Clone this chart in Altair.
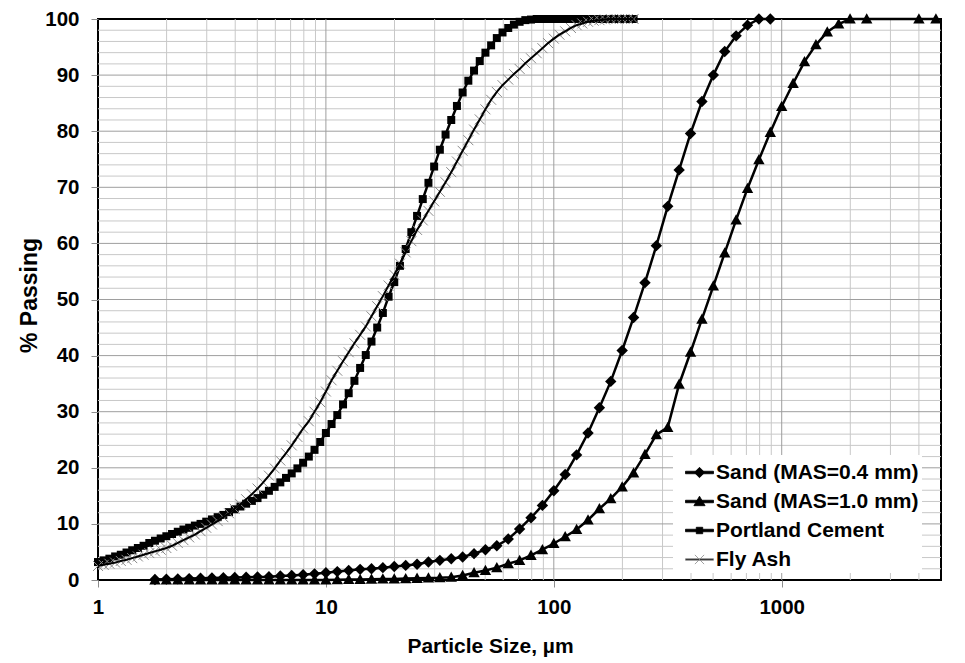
import altair as alt
import pandas as pd

names = ["Sand (MAS=0.4 mm)", "Sand (MAS=1.0 mm)", "Portland Cement", "Fly Ash"]

# particle sizes (um) of the laser-diffraction bins used for cement / fly ash
fine_sizes = [
    1.000, 1.059, 1.122, 1.189, 1.259, 1.334, 1.413, 1.496, 1.585, 1.679,
    1.778, 1.884, 1.995, 2.113, 2.239, 2.371, 2.512, 2.661, 2.818, 2.985,
    3.162, 3.350, 3.548, 3.758, 3.981, 4.217, 4.467, 4.732, 5.012, 5.309,
    5.623, 5.957, 6.310, 6.683, 7.079, 7.499, 7.943, 8.414, 8.913, 9.441,
    10.00, 10.59, 11.22, 11.89, 12.59, 13.34, 14.13, 14.96, 15.85, 16.79,
    17.78, 18.84, 19.95, 21.13, 22.39, 23.71, 25.12, 26.61, 28.18, 29.85,
    31.62, 33.50, 35.48, 37.58, 39.81, 42.17, 44.67, 47.32, 50.12, 53.09,
    56.23, 59.57, 63.10, 66.83, 70.79, 74.99, 79.43, 84.14, 89.13, 94.41,
    100.0, 105.9, 112.2, 118.9, 125.9, 133.4, 141.3, 149.6, 158.5, 167.9,
    177.8, 188.4, 199.5, 211.3, 223.9,
]
cement_pass = [
    3.2, 3.5, 3.8, 4.2, 4.5, 4.9, 5.3, 5.7, 6.1, 6.6,
    7.0, 7.4, 7.8, 8.2, 8.6, 9.0, 9.3, 9.7, 10.0, 10.4,
    10.8, 11.2, 11.6, 12.1, 12.6, 13.1, 13.6, 14.1, 14.6, 15.2,
    15.9, 16.6, 17.4, 18.2, 19.0, 19.9, 20.9, 22.0, 23.2, 24.6,
    26.2, 27.8, 29.4, 31.3, 33.3, 35.5, 37.8, 40.1, 42.5, 45.0,
    47.6, 50.5, 53.1, 56.0, 59.0, 62.0, 64.9, 67.9, 70.8, 73.7,
    76.7, 79.4, 82.0, 84.5, 86.9, 89.0, 90.8, 92.5, 94.0, 95.3,
    96.6, 97.6, 98.4, 99.0, 99.5, 99.8, 99.9, 100, 100, 100,
    100, 100, 100, 100, 100, 100, 100, 100, 100, 100,
    100, 100, 100, 100, 100,
]
flyash_pass = [
    2.5, 2.7, 2.9, 3.1, 3.4, 3.6, 3.9, 4.2, 4.5, 4.8,
    5.1, 5.4, 5.7, 6.1, 6.6, 7.1, 7.6, 8.1, 8.7, 9.3,
    9.9, 10.5, 11.2, 11.9, 12.7, 13.5, 14.4, 15.3, 16.3, 17.4,
    18.6, 19.9, 21.3, 22.6, 24.0, 25.5, 27.0, 28.3, 30.0, 31.7,
    33.6, 35.6, 37.3, 39.0, 40.6, 42.2, 43.7, 45.2, 47.0, 48.8,
    50.6, 52.5, 54.4, 56.4, 58.4, 60.4, 62.4, 64.1, 65.8, 67.5,
    69.2, 70.9, 72.7, 74.6, 76.5, 78.4, 80.3, 82.1, 83.9, 85.6,
    87.0, 88.2, 89.2, 90.2, 91.1, 92.1, 93.0, 93.9, 94.8, 95.7,
    96.5, 97.2, 97.8, 98.4, 98.9, 99.2, 99.5, 99.7, 99.8, 99.9,
    100, 100, 100, 100, 100,
]

# particle sizes (um) for the sands (laser bins + sieve sizes)
sand_sizes = [
    1.778, 1.995, 2.239, 2.512, 2.818, 3.162, 3.548, 3.981, 4.467, 5.012,
    5.623, 6.310, 7.079, 7.943, 8.913, 10.00, 11.22, 12.59, 14.13, 15.85,
    17.78, 19.95, 22.39, 25.12, 28.18, 31.62, 35.48, 39.81, 44.67, 50.12,
    56.23, 63.10, 70.79, 79.43, 89.13, 100.0, 112.2, 125.9, 141.3, 158.5,
    177.8, 199.5, 223.9, 251.2, 281.8, 316.2, 354.8, 398.1, 446.7, 501.2,
    562.3, 631.0, 707.9, 794.3, 891.3, 1000, 1122, 1259, 1413, 1585,
    1778, 1995, 2360, 4000, 4750,
]
sand04_pass = [
    0.1, 0.15, 0.2, 0.25, 0.3, 0.35, 0.4, 0.45, 0.5, 0.55,
    0.6, 0.7, 0.8, 0.95, 1.1, 1.3, 1.5, 1.7, 1.9, 2.0,
    2.2, 2.4, 2.6, 2.8, 3.2, 3.5, 3.8, 4.1, 4.7, 5.4,
    6.1, 7.3, 9.1, 11.1, 13.3, 15.9, 18.8, 22.3, 26.2, 30.7,
    35.4, 40.9, 46.8, 53.0, 59.6, 66.6, 73.1, 79.6, 85.3, 90.0,
    94.2, 97.0, 98.9, 100, 100,
]
sand10_pass = [
    0, 0, 0, 0, 0, 0, 0, 0, 0, 0,
    0, 0, 0, 0, 0, 0, 0.05, 0.1, 0.1, 0.15,
    0.2, 0.2, 0.25, 0.3, 0.35, 0.4, 0.5, 0.8, 1.3, 1.7,
    2.2, 2.9, 3.5, 4.4, 5.4, 6.5, 7.7, 9.0, 10.7, 12.7,
    14.5, 16.6, 19.1, 22.4, 25.9, 27.2, 34.9, 40.6, 46.5, 52.4,
    58.3, 64.2, 69.8, 74.9, 79.8, 84.4, 88.5, 92.4, 95.4, 97.7,
    99.1, 100, 100, 100, 100,
]

x_ticks = [1, 10, 100, 1000]
x_major_grid = [10, 100, 1000]
x_minor_grid = [2, 3, 4, 5, 6, 7, 8, 9, 20, 30, 40, 50, 60, 70, 80, 90,
                200, 300, 400, 500, 600, 700, 800, 900, 2000, 3000, 4000]
y_ticks = [0, 10, 20, 30, 40, 50, 60, 70, 80, 90, 100]
y_major_grid = [10, 20, 30, 40, 50, 60, 70, 80, 90]
y_minor_grid = [2, 4, 6, 8, 12, 14, 16, 18, 22, 24, 26, 28, 32, 34, 36, 38,
                42, 44, 46, 48, 52, 54, 56, 58, 62, 64, 66, 68, 72, 74, 76, 78,
                82, 84, 86, 88, 92, 94, 96, 98]

series_data = [
    (names[0], sand_sizes[:len(sand04_pass)], sand04_pass),
    (names[1], sand_sizes, sand10_pass),
    (names[2], fine_sizes, cement_pass),
    (names[3], fine_sizes, flyash_pass),
]
rows = []
for name, xs, ys in series_data:
    for xv, yv in zip(xs, ys):
        rows.append({"size": xv, "passing": yv, "series": name})
df = pd.DataFrame(rows)

FONT = "Liberation Sans"
W, H = 843, 561

xscale = alt.Scale(type="log", domain=[1, 5000], nice=False)
yscale = alt.Scale(domain=[0, 100], nice=False)
xaxis = alt.Axis(values=x_ticks, title="Particle Size, µm", grid=False, domain=False,
                 format="d", tickSize=7, tickColor="#8c8c8c", labelPadding=10,
                 titlePadding=18, labelFlush=False, titleX=392, titleFontSize=21)
yaxis = alt.Axis(values=y_ticks, title="% Passing", grid=False, domain=False,
                 tickSize=7, tickColor="#8c8c8c", labelPadding=12, titlePadding=3,
                 titleFontSize=23, titleY=276)

X = lambda f: alt.X(f, type="quantitative", scale=xscale, axis=xaxis)
Y = lambda f: alt.Y(f, type="quantitative", scale=yscale, axis=yaxis)

def vrules(vals, color):
    return alt.Chart(pd.DataFrame({"size": vals})).mark_rule(
        color=color, strokeWidth=1).encode(x=X("size"))

def hrules(vals, color):
    return alt.Chart(pd.DataFrame({"passing": vals})).mark_rule(
        color=color, strokeWidth=1).encode(y=Y("passing"))

MINOR = "#c8c8c8"
MAJOR = "#9e9e9e"
grid = [vrules(x_minor_grid, MINOR), hrules(y_minor_grid, MINOR),
        vrules(x_major_grid, MAJOR), hrules(y_major_grid, MAJOR)]

P_DIAMOND = "M0,-1L1,0L0,1L-1,0Z"
P_TRIANGLE = "M0,-1L1,0.8L-1,0.8Z"
P_SQUARE = "M-1,-1H1V1H-1Z"
P_CROSS = "M-1,-1L1,1M-1,1L1,-1"

base = alt.Chart(df)
layers = list(grid)
for i, name in enumerate(names):
    sub = base.transform_filter(alt.datum.series == name)
    line = sub.mark_line(color="black", strokeWidth=2.5 if i < 3 else 2.0).encode(
        x=X("size"), y=Y("passing"), order="size:Q")
    if i < 3:
        shp = [P_DIAMOND, P_TRIANGLE, P_SQUARE][i]
        sz = [130, 130, 64][i]
        pts = sub.mark_point(shape=shp, size=sz, filled=True, color="black",
                             opacity=1).encode(x=X("size"), y=Y("passing"))
        layers += [line, pts]
    else:
        pts = sub.mark_point(shape=P_CROSS, size=100, filled=False, color="#8a8a8a",
                             strokeWidth=1, opacity=1).encode(x=X("size"), y=Y("passing"))
        layers += [pts, line]

# legend symbols: line segment + marker
L_LINE = "M-1,-0.09H1V0.09H-1Z"
legend_paths = [
    L_LINE + "M0,-0.37L0.37,0L0,0.37L-0.37,0Z",
    L_LINE + "M0,-0.38L0.4,0.3L-0.4,0.3Z",
    L_LINE + "M-0.23,-0.23H0.23V0.23H-0.23Z",
    "M-1,-0.05H1V0.05H-1Z M-0.33,-0.33L0.33,0.33M-0.33,0.33L0.33,-0.33",
]
leg = alt.Legend(title=None, orient="none", legendX=575, legendY=436,
                 symbolSize=784, symbolOpacity=1, symbolStrokeWidth=0.8,
                 symbolOffset=9,
                 labelFont=FONT, labelFontSize=21, labelFontWeight="bold", labelColor="black",
                 labelOffset=2, rowPadding=4, padding=3, fillColor="white",
                 labelLimit=400, offset=0,
                 labelExpr="datum.label + '\u00a0\u00a0'")
legend_layer = base.transform_filter(alt.datum.size < 2).mark_point(
    filled=True, opacity=0, strokeWidth=0.8).encode(
    x=X("size"), y=Y("passing"),
    shape=alt.Shape("series:N", scale=alt.Scale(domain=names, range=legend_paths), legend=leg),
    fill=alt.Fill("series:N", scale=alt.Scale(domain=names, range=["black"] * 4), legend=leg),
    stroke=alt.Stroke("series:N", scale=alt.Scale(domain=names,
                      range=["black", "black", "black", "#8a8a8a"]), legend=leg),
)
layers.append(legend_layer)

chart = alt.layer(*layers).resolve_scale(
    shape="independent", fill="independent", stroke="independent"
).properties(
    width=W, height=H,
    padding={"left": 10, "top": 1, "right": 5, "bottom": 5},
    background="white",
).configure_view(
    stroke="black", strokeWidth=2
).configure_axis(
    labelFont=FONT, labelFontSize=20.5, labelFontWeight="bold", labelColor="black",
    titleFont=FONT, titleFontSize=20, titleFontWeight="bold", titleColor="black",
)

chart.save("out.html", embed_options={"renderer": "svg", "actions": False})
